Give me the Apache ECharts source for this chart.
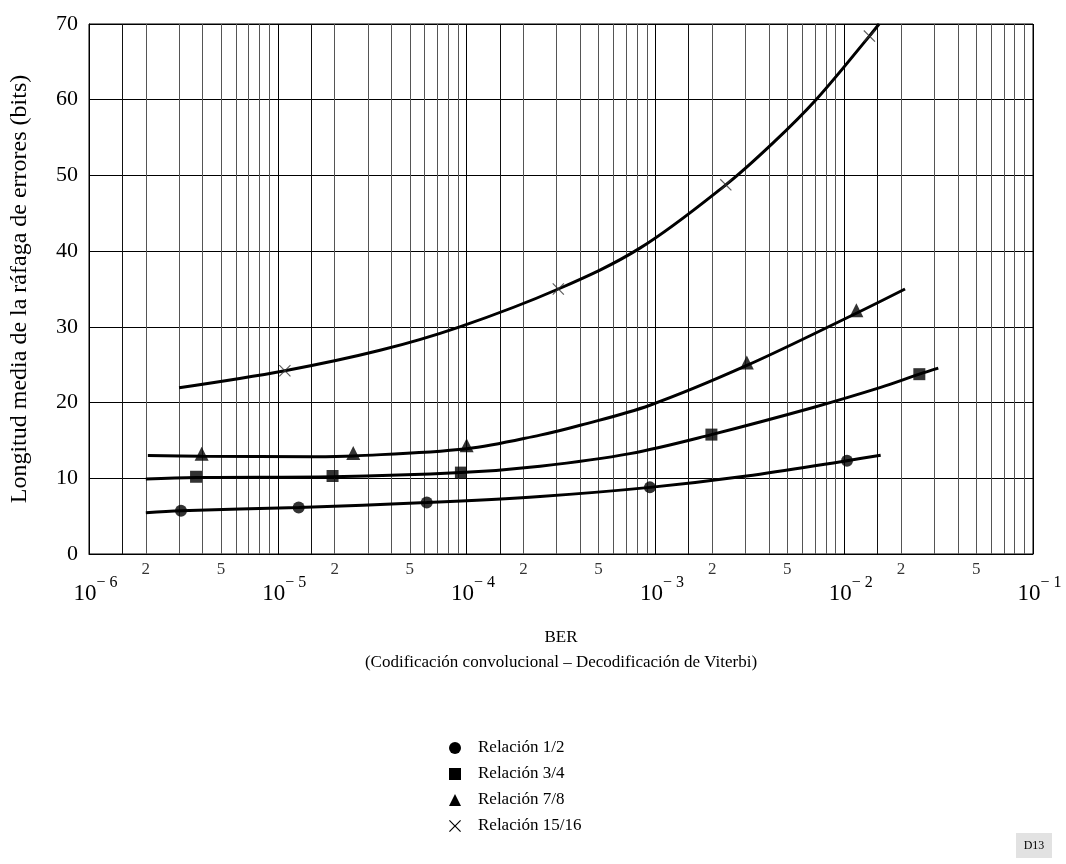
<!DOCTYPE html>
<html>
<head>
<meta charset="utf-8">
<script src="https://cdn.jsdelivr.net/npm/echarts@6/dist/echarts.min.js"></script>
<style>
  html, body { margin: 0; padding: 0; background: #fff; }
  #chart { width: 1066px; height: 864px; }
</style>
</head>
<body>
<div id="chart"></div>
<script>
// BER values (x) and mean burst length in bits (y)
const r12Curve = [[2e-6, 5.45], [3.07e-6, 5.72], [1.29e-5, 6.15], [6.15e-5, 6.8], [2.45e-4, 7.6],
  [9.35e-4, 8.8], [3.04e-3, 10.3], [1.035e-2, 12.33], [1.56e-2, 13.03]]
const r12Marks = [[3.07e-6, 5.72], [1.29e-5, 6.15], [6.15e-5, 6.8], [9.35e-4, 8.8], [1.035e-2, 12.33]]

const r34Curve = [[2e-6, 9.9], [3.69e-6, 10.1], [1.95e-5, 10.2], [9.33e-5, 10.75], [2.45e-4, 11.6],
  [7.33e-4, 13.26], [1.98e-3, 15.77], [6.85e-3, 19.35], [1.56e-2, 22.0], [2.5e-2, 23.75], [3.15e-2, 24.55]]
const r34Marks = [[3.69e-6, 10.2], [1.95e-5, 10.3], [9.33e-5, 10.75], [1.98e-3, 15.77], [2.5e-2, 23.75]]

const r78Curve = [[2.05e-6, 13.0], [3.95e-6, 12.9], [1.55e-5, 12.85], [2.51e-5, 12.95], [1e-4, 13.9],
  [2.45e-4, 15.7], [4e-4, 17.0], [9.35e-4, 19.65], [3.05e-3, 24.9], [1.16e-2, 31.8], [2.1e-2, 35.0]]
const r78Marks = [[3.95e-6, 13.25], [2.51e-5, 13.35], [1e-4, 14.35], [3.05e-3, 25.3], [1.16e-2, 32.2]]

const r1516Curve = [[3e-6, 21.95], [1.09e-5, 24.2], [3.48e-5, 26.9], [9.2e-5, 30.0], [3.06e-4, 35.0],
  [8.28e-4, 40.4], [2.36e-3, 48.76], [4.2e-3, 54.3], [7.15e-3, 60.1], [1.36e-2, 68.4], [1.53e-2, 70.0]]
const r1516Marks = [[1.09e-5, 24.2], [3.06e-4, 35.0], [2.36e-3, 48.76], [1.36e-2, 68.4]]

const seriesNames = ['Relación 1/2', 'Relación 3/4', 'Relación 7/8', 'Relación 15/16']

// log grid: minor lines inside each decade, labelled at 2 and 5
const decades = [-6, -5, -4, -3, -2]
const minorSteps = [1.5, 2, 3, 4, 5, 6, 7, 8, 9]
const labelledSteps = [2, 5]
const yMin = 0
const yMax = 70

const FONT = 'Liberation Serif'
const crossPath = 'path://M0,0.7 L0.7,0 L5,4.3 L9.3,0 L10,0.7 L5.7,5 L10,9.3 L9.3,10 L5,5.7 L0.7,10 L0,9.3 L4.3,5 Z'
const markerIcons = ['circle', 'rect', 'triangle', crossPath]
const markerSizes = [12, 12, 14, 12]

const gridLines = []
const gridLabels = []
decades.forEach((d) => {
  minorSteps.forEach((k) => {
    const x = k * Math.pow(10, d)
    gridLines.push({
      coords: [[x, yMin], [x, yMax]],
      lineStyle: { color: k === 1.5 ? '#111' : '#555', width: 1, opacity: 1 }
    })
    if (labelledSteps.indexOf(k) >= 0) gridLabels.push([x, yMin, String(k)])
  })
})

const curves = [r12Curve, r34Curve, r78Curve, r1516Curve]
const marks = [r12Marks, r34Marks, r78Marks, r1516Marks]

const series = [{
  type: 'lines',
  coordinateSystem: 'cartesian2d',
  polyline: false,
  silent: true,
  animation: false,
  z: 1,
  data: gridLines
}, {
  type: 'scatter',
  symbolSize: 0,
  silent: true,
  animation: false,
  data: gridLabels,
  label: {
    show: true,
    position: 'bottom',
    distance: 7,
    formatter: (p) => p.value[2],
    color: '#000',
    fontFamily: FONT,
    fontSize: 17
  }
}]

curves.forEach((c, i) => {
  series.push({
    name: seriesNames[i],
    type: 'line',
    data: c,
    smooth: 0.35,
    showSymbol: false,
    symbol: 'none',
    lineStyle: { color: '#000', width: 3 },
    itemStyle: { color: '#000' },
    silent: true,
    animation: false,
    z: 3
  })
  series.push({
    name: seriesNames[i],
    type: 'scatter',
    data: marks[i],
    symbol: markerIcons[i],
    symbolSize: markerSizes[i],
    itemStyle: { color: i === 3 ? '#333' : '#000' },
    animation: false,
    z: 4
  })
})

const chart = echarts.init(document.getElementById('chart'))
chart.setOption({
  backgroundColor: '#fff',
  animation: false,
  textStyle: { fontFamily: FONT },
  grid: {
    left: 89, right: 33, top: 24, bottom: 310,
    show: true, borderColor: '#000', borderWidth: 1
  },
  legend: {
    orient: 'vertical',
    left: 444,
    top: 734,
    itemGap: 8,
    itemWidth: 12,
    itemHeight: 12,
    itemStyle: { color: '#000' },
    textStyle: { fontFamily: FONT, fontSize: 17, color: '#000', lineHeight: 18, padding: [0, 0, 0, 12] },
    data: seriesNames.map((n, i) => ({ name: n, icon: markerIcons[i] }))
  },
  xAxis: {
    type: 'log',
    logBase: 10,
    min: 1e-6,
    max: 1e-1,
    name: 'BER\n(Codificación convolucional – Decodificación de Viterbi)',
    nameLocation: 'middle',
    nameGap: 71,
    nameTextStyle: { fontFamily: FONT, fontSize: 17, color: '#000', lineHeight: 25 },
    axisLine: { lineStyle: { color: '#000', width: 1 } },
    axisTick: { show: false },
    splitLine: { show: true, lineStyle: { color: '#000', width: 1 } },
    axisLabel: {
      margin: 21,
      color: '#000',
      formatter: (v) => '{b|10}{e|− ' + Math.abs(Math.round(Math.log10(v))) + '}',
      rich: {
        b: { fontFamily: FONT, fontSize: 23, lineHeight: 30, verticalAlign: 'bottom', color: '#000', padding: [0, 0, 0, 13] },
        e: { fontFamily: FONT, fontSize: 16, lineHeight: 16, verticalAlign: 'top', color: '#000' }
      }
    }
  },
  yAxis: {
    type: 'value',
    min: yMin,
    max: yMax,
    interval: 10,
    name: 'Longitud media de la ráfaga de errores (bits)',
    nameLocation: 'middle',
    nameGap: 57,
    nameTextStyle: { fontFamily: FONT, fontSize: 24, color: '#000' },
    axisLine: { show: true, lineStyle: { color: '#000', width: 1 } },
    axisTick: { show: false },
    splitLine: { show: true, lineStyle: { color: '#000', width: 1 } },
    axisLabel: { margin: 11, color: '#000', fontFamily: FONT, fontSize: 22 }
  },
  graphic: [{
    type: 'group',
    left: 1016,
    top: 833,
    children: [
      { type: 'rect', shape: { x: 0, y: 0, width: 36, height: 25 }, style: { fill: '#e2e2e2' } },
      { type: 'text', x: 18, y: 12.5, style: { text: 'D13', fontFamily: FONT, fontSize: 12, fill: '#000', align: 'center', verticalAlign: 'middle' } }
    ]
  }],
  series: series
})
</script>
</body>
</html>
